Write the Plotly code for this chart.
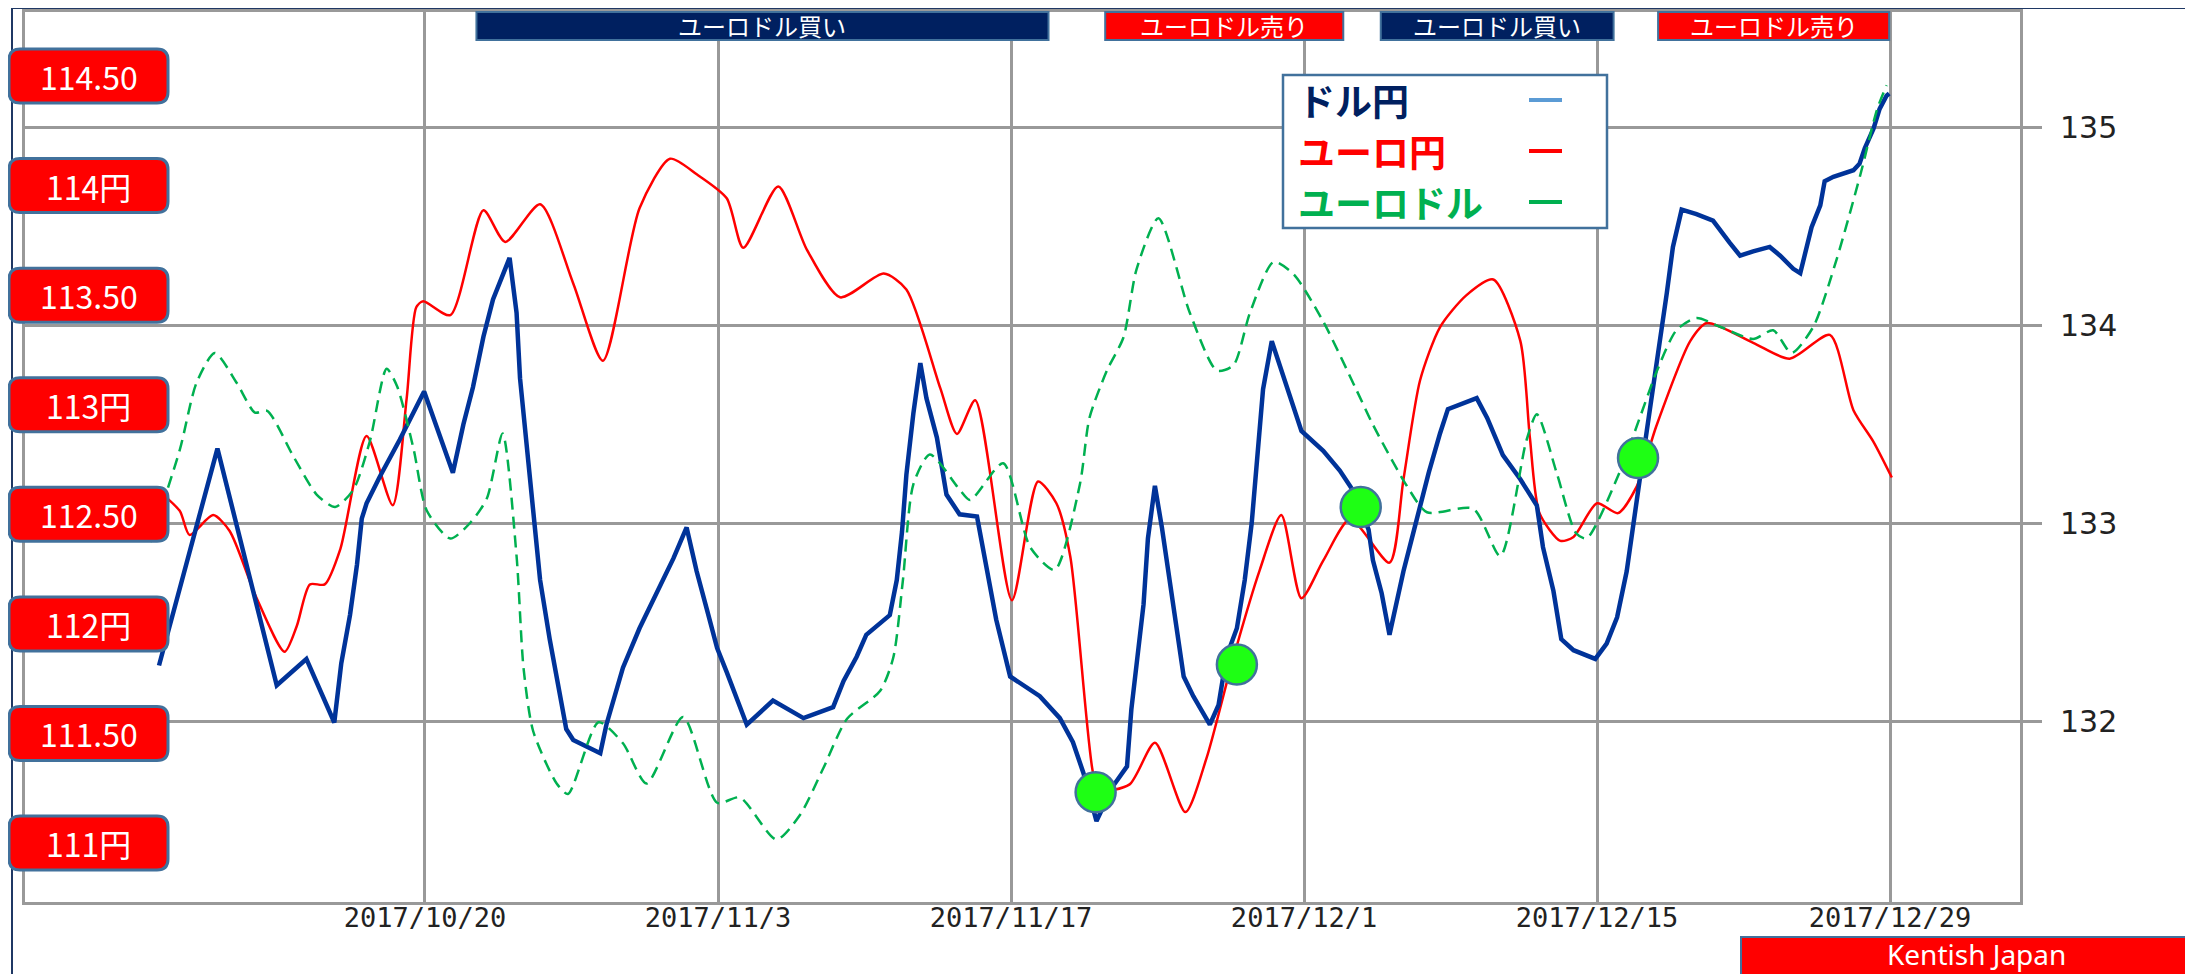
import plotly.graph_objects as go
import pandas as pd

# ---------------- data ----------------
usdjpy_dates = [
    "2017-10-07 07:00", "2017-10-10 02:00", "2017-10-12 22:00", "2017-10-14 08:00", "2017-10-15 16:00",
    "2017-10-16 00:00", "2017-10-16 10:00", "2017-10-16 18:00", "2017-10-16 23:30", "2017-10-17 05:00",
    "2017-10-17 20:00", "2017-10-18 19:00", "2017-10-19 23:00", "2017-10-21 08:00", "2017-10-21 20:00",
    "2017-10-22 07:00", "2017-10-22 19:00", "2017-10-23 06:00", "2017-10-24 01:00", "2017-10-24 09:00",
    "2017-10-24 13:00", "2017-10-24 21:00", "2017-10-25 04:00", "2017-10-25 12:00", "2017-10-25 23:00",
    "2017-10-26 09:00", "2017-10-26 18:00", "2017-10-27 02:00", "2017-10-28 09:00", "2017-10-28 16:00",
    "2017-10-29 11:00", "2017-10-30 06:00", "2017-10-31 02:00", "2017-10-31 21:00", "2017-11-01 12:00",
    "2017-11-01 23:30", "2017-11-02 11:00", "2017-11-02 23:00", "2017-11-03 10:00", "2017-11-03 21:00",
    "2017-11-04 09:00", "2017-11-05 15:00", "2017-11-07 02:00", "2017-11-08 12:00", "2017-11-09 00:00",
    "2017-11-09 15:00", "2017-11-10 02:00", "2017-11-11 05:00", "2017-11-11 13:00", "2017-11-11 19:00",
    "2017-11-12 00:00", "2017-11-12 08:00", "2017-11-12 16:00", "2017-11-12 23:00", "2017-11-13 11:00",
    "2017-11-13 22:00", "2017-11-14 13:00", "2017-11-15 09:00", "2017-11-15 20:00", "2017-11-16 07:00",
    "2017-11-16 23:00", "2017-11-18 09:00", "2017-11-19 08:00", "2017-11-19 23:00", "2017-11-20 11:00",
    "2017-11-21 02:00", "2017-11-21 21:00", "2017-11-22 13:00", "2017-11-22 18:00", "2017-11-23 02:00",
    "2017-11-23 08:00", "2017-11-23 13:00", "2017-11-23 21:00", "2017-11-24 05:00", "2017-11-24 14:00",
    "2017-11-24 22:00", "2017-11-25 06:00", "2017-11-25 17:00", "2017-11-26 12:00", "2017-11-26 22:00",
    "2017-11-27 07:00", "2017-11-27 19:00", "2017-11-28 04:00", "2017-11-28 12:00", "2017-11-28 18:00",
    "2017-11-29 01:00", "2017-11-29 11:00", "2017-11-29 20:00", "2017-11-30 08:00", "2017-11-30 21:00",
    "2017-12-01 22:00", "2017-12-02 17:00", "2017-12-03 08:00", "2017-12-04 02:00", "2017-12-04 07:00",
    "2017-12-04 17:00", "2017-12-05 02:00", "2017-12-05 10:00", "2017-12-05 18:00", "2017-12-06 03:00",
    "2017-12-06 13:00", "2017-12-06 23:00", "2017-12-07 12:00", "2017-12-07 21:00", "2017-12-09 06:00",
    "2017-12-09 18:00", "2017-12-10 12:00", "2017-12-11 08:00", "2017-12-12 03:00", "2017-12-12 10:00",
    "2017-12-12 22:00", "2017-12-13 07:00", "2017-12-13 21:00", "2017-12-14 22:00", "2017-12-15 11:00",
    "2017-12-15 23:00", "2017-12-16 10:00", "2017-12-16 18:00", "2017-12-17 01:00", "2017-12-17 09:00",
    "2017-12-17 17:00", "2017-12-18 00:00", "2017-12-18 08:00", "2017-12-18 15:00", "2017-12-19 01:00",
    "2017-12-19 18:00", "2017-12-20 13:00", "2017-12-21 08:00", "2017-12-21 20:00", "2017-12-22 11:00",
    "2017-12-23 06:00", "2017-12-23 18:00", "2017-12-24 09:00", "2017-12-24 17:00", "2017-12-24 23:00",
    "2017-12-25 06:00", "2017-12-25 16:00", "2017-12-25 21:00", "2017-12-26 07:00", "2017-12-27 06:00",
    "2017-12-27 13:00", "2017-12-27 19:00", "2017-12-28 05:00", "2017-12-28 12:00", "2017-12-28 20:00",
    "2017-12-28 23:00",
]
usdjpy_values = [
    111.81, 112.80, 111.72, 111.84, 111.55, 111.82, 112.04, 112.27, 112.48, 112.55,
    112.67, 112.84, 113.06, 112.69, 112.91, 113.08, 113.31, 113.48, 113.67, 113.42,
    113.12, 112.80, 112.48, 112.20, 111.93, 111.72, 111.52, 111.47, 111.41, 111.54,
    111.80, 111.98, 112.15, 112.30, 112.44, 112.24, 112.07, 111.89, 111.78, 111.67,
    111.54, 111.65, 111.57, 111.62, 111.74, 111.85, 111.95, 112.04, 112.20, 112.42,
    112.68, 112.96, 113.19, 113.03, 112.85, 112.59, 112.50, 112.49, 112.26, 112.02,
    111.76, 111.67, 111.57, 111.46, 111.32, 111.10, 111.26, 111.35, 111.61, 111.91,
    112.09, 112.39, 112.63, 112.44, 112.20, 111.98, 111.76, 111.67, 111.54, 111.63,
    111.85, 111.98, 112.20, 112.46, 112.77, 113.07, 113.29, 113.18, 113.03, 112.88,
    112.79, 112.70, 112.61, 112.43, 112.29, 112.14, 111.95, 112.10, 112.24, 112.38,
    112.54, 112.69, 112.87, 112.98, 113.03, 112.94, 112.77, 112.66, 112.54, 112.35,
    112.15, 111.93, 111.88, 111.84, 111.91, 112.03, 112.24, 112.45, 112.66, 112.88,
    113.09, 113.30, 113.51, 113.72, 113.89, 113.87, 113.84, 113.74, 113.68, 113.70,
    113.72, 113.68, 113.62, 113.60, 113.70, 113.81, 113.91, 114.02, 114.04, 114.07,
    114.10, 114.17, 114.26, 114.35, 114.41, 114.42,
]

eurjpy_dates = [
    "2017-10-07 10:00", "2017-10-08 07:00", "2017-10-08 18:00", "2017-10-09 21:00", "2017-10-10 16:00",
    "2017-10-11 23:00", "2017-10-13 07:00", "2017-10-13 21:00", "2017-10-14 12:00", "2017-10-15 05:00",
    "2017-10-15 23:00", "2017-10-17 05:00", "2017-10-18 11:00", "2017-10-19 03:00", "2017-10-19 14:00",
    "2017-10-19 22:00", "2017-10-21 05:00", "2017-10-22 19:00", "2017-10-23 20:00", "2017-10-25 12:00",
    "2017-10-27 02:00", "2017-10-28 12:00", "2017-10-30 06:00", "2017-10-31 17:00", "2017-11-02 00:00",
    "2017-11-03 10:00", "2017-11-04 05:00", "2017-11-05 21:00", "2017-11-07 06:00", "2017-11-08 20:00",
    "2017-11-10 22:00", "2017-11-12 00:00", "2017-11-13 15:00", "2017-11-14 10:00", "2017-11-15 07:00",
    "2017-11-17 01:00", "2017-11-18 07:00", "2017-11-19 04:00", "2017-11-19 20:00", "2017-11-20 22:00",
    "2017-11-21 06:00", "2017-11-22 16:00", "2017-11-23 21:00", "2017-11-25 08:00", "2017-11-26 08:00",
    "2017-11-27 15:00", "2017-11-28 21:00", "2017-11-29 22:00", "2017-11-30 21:00", "2017-12-01 22:00",
    "2017-12-03 05:00", "2017-12-05 02:00", "2017-12-05 18:00", "2017-12-06 13:00", "2017-12-07 12:00",
    "2017-12-08 18:00", "2017-12-10 01:00", "2017-12-11 08:00", "2017-12-11 19:00", "2017-12-12 06:00",
    "2017-12-13 06:00", "2017-12-13 21:00", "2017-12-15 00:00", "2017-12-16 00:00", "2017-12-16 21:00",
    "2017-12-17 20:00", "2017-12-19 11:00", "2017-12-20 06:00", "2017-12-22 11:00", "2017-12-24 05:00",
    "2017-12-26 03:00", "2017-12-27 06:00", "2017-12-28 05:00", "2017-12-29 02:00",
]
eurjpy_values = [
    133.15, 133.06, 132.94, 133.04, 132.96, 132.62, 132.35, 132.48, 132.69, 132.69,
    132.87, 133.44, 133.09, 133.63, 134.09, 134.12, 134.05, 134.58, 134.42, 134.61,
    134.21, 133.82, 134.59, 134.84, 134.76, 134.64, 134.39, 134.70, 134.38, 134.14,
    134.26, 134.18, 133.68, 133.45, 133.62, 132.61, 133.21, 133.10, 132.83, 131.74,
    131.65, 131.68, 131.89, 131.54, 131.81, 132.32, 132.76, 133.04, 132.62, 132.81,
    133.02, 132.80, 133.22, 133.72, 133.99, 134.15, 134.23, 133.92, 133.43, 133.05,
    132.91, 132.93, 133.10, 133.05, 133.18, 133.49, 133.92, 134.01, 133.91, 133.83,
    133.95, 133.57, 133.41, 133.23,
]

eurusd_dates = [
    "2017-10-06 21:00", "2017-10-08 07:00", "2017-10-09 02:00", "2017-10-09 23:00", "2017-10-11 00:00",
    "2017-10-11 21:00", "2017-10-12 11:00", "2017-10-13 17:00", "2017-10-14 20:00", "2017-10-15 17:00",
    "2017-10-16 14:00", "2017-10-17 09:00", "2017-10-18 04:00", "2017-10-18 16:00", "2017-10-19 11:00",
    "2017-10-20 02:00", "2017-10-21 05:00", "2017-10-22 04:00", "2017-10-22 23:00", "2017-10-23 17:00",
    "2017-10-24 09:00", "2017-10-24 17:00", "2017-10-25 04:00", "2017-10-26 07:00", "2017-10-26 20:00",
    "2017-10-28 07:00", "2017-10-29 11:00", "2017-10-30 14:00", "2017-11-01 08:00", "2017-11-02 23:00",
    "2017-11-04 01:00", "2017-11-05 19:00", "2017-11-06 22:00", "2017-11-08 01:00", "2017-11-09 04:00",
    "2017-11-10 18:00", "2017-11-11 09:00", "2017-11-11 20:00", "2017-11-12 08:00", "2017-11-13 03:00",
    "2017-11-14 13:00", "2017-11-15 01:00", "2017-11-16 15:00", "2017-11-17 22:00", "2017-11-19 02:00",
    "2017-11-20 07:00", "2017-11-20 18:00", "2017-11-21 14:00", "2017-11-22 09:00", "2017-11-23 00:00",
    "2017-11-24 01:00", "2017-11-25 13:00", "2017-11-26 20:00", "2017-11-27 15:00", "2017-11-28 10:00",
    "2017-11-29 13:00", "2017-11-30 12:00", "2017-12-01 22:00", "2017-12-03 12:00", "2017-12-04 07:00",
    "2017-12-05 22:00", "2017-12-06 21:00", "2017-12-09 02:00", "2017-12-10 09:00", "2017-12-11 15:00",
    "2017-12-12 03:00", "2017-12-13 02:00", "2017-12-14 00:00", "2017-12-14 12:00", "2017-12-16 02:00",
    "2017-12-17 01:00", "2017-12-17 20:00", "2017-12-18 19:00", "2017-12-19 18:00", "2017-12-20 21:00",
    "2017-12-22 11:00", "2017-12-23 10:00", "2017-12-24 07:00", "2017-12-25 08:00", "2017-12-26 11:00",
    "2017-12-27 14:00", "2017-12-28 09:00", "2017-12-28 20:00",
]
eurusd_values = [
    1.1740, 1.1793, 1.1831, 1.1848, 1.1831, 1.1814, 1.1815, 1.1789, 1.1767, 1.1760,
    1.1770, 1.1798, 1.1839, 1.1829, 1.1793, 1.1758, 1.1742, 1.1751, 1.1765, 1.1802,
    1.1732, 1.1668, 1.1632, 1.1602, 1.1596, 1.1637, 1.1625, 1.1602, 1.1640, 1.1591,
    1.1594, 1.1570, 1.1584, 1.1611, 1.1639, 1.1655, 1.1674, 1.1718, 1.1773, 1.1790,
    1.1770, 1.1764, 1.1785, 1.1737, 1.1724, 1.1773, 1.1811, 1.1838, 1.1857, 1.1896,
    1.1925, 1.1871, 1.1838, 1.1841, 1.1871, 1.1900, 1.1893, 1.1866, 1.1827, 1.1807,
    1.1772, 1.1757, 1.1759, 1.1732, 1.1798, 1.1813, 1.1779, 1.1745, 1.1742, 1.1780,
    1.1811, 1.1837, 1.1861, 1.1868, 1.1863, 1.1856, 1.1861, 1.1848, 1.1863, 1.1902,
    1.1950, 1.1987, 1.2001,
]

# signal circles (plotted on the EUR/USD scale)
signal_dates = ["2017-11-21 01:00", "2017-11-27 19:00", "2017-12-03 17:00", "2017-12-16 23:00"]
signal_values = [1.1597, 1.1670, 1.1760, 1.1788]

# top banners (EUR/USD buy / sell periods)
banner_labels = ["ユーロドル買い", "ユーロドル売り", "ユーロドル買い", "ユーロドル売り"]
banner_starts = ["2017-10-22 11:00", "2017-11-21 12:00", "2017-12-04 16:00", "2017-12-17 22:00"]
banner_ends = ["2017-11-18 19:00", "2017-12-02 21:00", "2017-12-15 19:00", "2017-12-28 23:00"]
banner_colors = ["#002060", "#FF0000", "#002060", "#FF0000"]

# left-side USD/JPY labels
left_label_values = [114.5, 114.0, 113.5, 113.0, 112.5, 112.0, 111.5, 111.0]
left_label_text = ["114.50", "114円", "113.50", "113円", "112.50", "112円", "111.50", "111円"]

# right axis (EUR/JPY) ticks
right_tick_vals = [132, 133, 134, 135]
right_tick_text = ["132", "133", "134", "135"]

# x ticks
x_tick_vals = ["2017-10-20", "2017-11-03", "2017-11-17", "2017-12-01", "2017-12-15", "2017-12-29"]
x_tick_text = ["2017/10/20", "2017/11/3", "2017/11/17", "2017/12/1", "2017/12/15", "2017/12/29"]

legend_names = ["ドル円", "ユーロ円", "ユーロドル"]
legend_text_colors = ["#002060", "#FF0000", "#00B050"]
legend_line_colors = ["#5B9BD5", "#FF0000", "#00B050"]

# ---------------- figure ----------------
GRID = "#999999"
fig = go.Figure()

fig.add_trace(go.Scatter(x=eurjpy_dates, y=eurjpy_values, yaxis="y", mode="lines",
                         line=dict(color="#FF0000", width=2.5, shape="spline", smoothing=0.7),
                         name="ユーロ円", hoverinfo="x+y"))
fig.add_trace(go.Scatter(x=usdjpy_dates, y=usdjpy_values, yaxis="y2", mode="lines",
                         line=dict(color="#003399", width=4.5),
                         name="ドル円", hoverinfo="x+y"))
fig.add_trace(go.Scatter(x=eurusd_dates, y=eurusd_values, yaxis="y3", mode="lines",
                         line=dict(color="#00B050", width=2.5, dash="12px,7px", shape="spline", smoothing=0.7),
                         name="ユーロドル", hoverinfo="x+y"))
fig.add_trace(go.Scatter(x=signal_dates, y=signal_values, yaxis="y3", mode="markers",
                         marker=dict(size=40, color="#1EFF14", line=dict(color="#41719C", width=2.5)),
                         name="signal", hoverinfo="x"))

# page is rendered with an 8px body margin -> figure sits at (8, 8)
OFF = 8
W, H = 2193 - OFF, 974 - OFF
PL, PR, PT, PB = 25, 2020, 12, 902          # plot area in page pixels
L, R, T, B = PL - OFF, W - (PR - OFF), PT - OFF, H - (PB - OFF)
pw, ph = PR - PL, PB - PT


def px_x(p):
    return (p - PL) / pw


def px_y(p):
    return (PB - p) / ph


shapes = []
annotations = []

# outer navy frame lines
shapes.append(dict(type="line", xref="paper", yref="paper", x0=px_x(12), x1=px_x(12), y0=px_y(8), y1=px_y(990),
                   line=dict(color="#1F3864", width=2), layer="above"))
shapes.append(dict(type="line", xref="paper", yref="paper", x0=px_x(12), x1=px_x(2210), y0=px_y(8), y1=px_y(8),
                   line=dict(color="#1F3864", width=2), layer="above"))

# banners
for lab, s, e, c in zip(banner_labels, banner_starts, banner_ends, banner_colors):
    ts, te = pd.Timestamp(s), pd.Timestamp(e)
    mid = (ts + (te - ts) / 2).strftime("%Y-%m-%d %H:%M")
    shapes.append(dict(type="rect", xref="x", yref="paper", x0=s, x1=e, y0=px_y(40), y1=px_y(12),
                       fillcolor=c, line=dict(color="#41719C", width=2), layer="above"))
    annotations.append(dict(xref="x", yref="paper", x=mid, y=px_y(26), text=lab, showarrow=False,
                            xanchor="center", yanchor="middle",
                            font=dict(family="Noto Sans CJK JP", size=24, color="white")))

# left labels (rounded red boxes anchored at USD/JPY values)
bx0, bx1, bh, r = 9 - PL, 168 - PL, 27, 11
path = (f"M {bx0 + r},{-bh} L {bx1 - r},{-bh} Q {bx1},{-bh} {bx1},{-bh + r} "
        f"L {bx1},{bh - r} Q {bx1},{bh} {bx1 - r},{bh} L {bx0 + r},{bh} Q {bx0},{bh} {bx0},{bh - r} "
        f"L {bx0},{-bh + r} Q {bx0},{-bh} {bx0 + r},{-bh} Z")
for v, t in zip(left_label_values, left_label_text):
    shapes.append(dict(type="path", xref="paper", yref="y2", xsizemode="pixel", ysizemode="pixel",
                       xanchor=0, yanchor=v, path=path, fillcolor="#FF0000",
                       line=dict(color="#41719C", width=3), layer="above"))
    annotations.append(dict(xref="paper", yref="y2", x=0, y=v, xshift=(bx0 + bx1) / 2, text=t,
                            showarrow=False, xanchor="center", yanchor="middle",
                            font=dict(family="Noto Sans CJK JP", size=32, color="white")))

# custom legend
shapes.append(dict(type="rect", xref="paper", yref="paper", x0=px_x(1283), x1=px_x(1607), y0=px_y(228), y1=px_y(75),
                   fillcolor="white", line=dict(color="#41719C", width=2.5), layer="above"))
for i, (n, tc, lc) in enumerate(zip(legend_names, legend_text_colors, legend_line_colors)):
    yy = px_y(100 + 51 * i)
    annotations.append(dict(xref="paper", yref="paper", x=px_x(1296), y=yy, text=f"<b>{n}</b>", showarrow=False,
                            xanchor="left", yanchor="middle",
                            font=dict(family="Noto Sans CJK JP", size=37, color=tc)))
    shapes.append(dict(type="line", xref="paper", yref="paper", x0=px_x(1529), x1=px_x(1562), y0=yy, y1=yy,
                       line=dict(color=lc, width=4), layer="above"))

# Kentish Japan box
shapes.append(dict(type="rect", xref="paper", yref="paper", x0=px_x(1741), x1=px_x(2215), y0=px_y(1000), y1=px_y(937),
                   fillcolor="#FF0000", line=dict(color="#41719C", width=2), layer="above"))
annotations.append(dict(xref="paper", yref="paper", x=px_x(1976), y=px_y(954), text="Kentish Japan",
                        showarrow=False, xanchor="center", yanchor="middle",
                        font=dict(family="Noto Sans", size=28, color="white")))

fig.update_layout(
    width=W, height=H, autosize=False,
    margin=dict(l=L, r=R, t=T, b=B, pad=0),
    plot_bgcolor="white", paper_bgcolor="white",
    showlegend=False,
    shapes=shapes, annotations=annotations,
    xaxis=dict(type="date", range=["2017-09-30 21:20", "2018-01-04 05:00"],
               tickvals=x_tick_vals, ticktext=x_tick_text, ticks="",
               showgrid=True, gridcolor=GRID, gridwidth=3, zeroline=False,
               showline=True, linecolor=GRID, linewidth=3, mirror=True, automargin=False,
               ticklabelstandoff=-10,
               tickfont=dict(family="DejaVu Sans Mono", size=27, color="#222222")),
    yaxis=dict(side="right", range=[131.086, 135.581], tickvals=right_tick_vals, ticktext=right_tick_text,
               showgrid=True, gridcolor=GRID, gridwidth=3, zeroline=False,
               ticks="outside", ticklen=19, tickwidth=3, tickcolor=GRID, ticklabelstandoff=12,
               showline=True, linecolor=GRID, linewidth=3, mirror=True, automargin=False,
               tickfont=dict(family="DejaVu Sans", size=30, color="#222222")),
    yaxis2=dict(overlaying="y", side="left", range=[110.731, 114.792], visible=False),
    yaxis3=dict(overlaying="y", side="left", range=[1.153429, 1.204286], visible=False),
)

fig.write_html("out.html")
